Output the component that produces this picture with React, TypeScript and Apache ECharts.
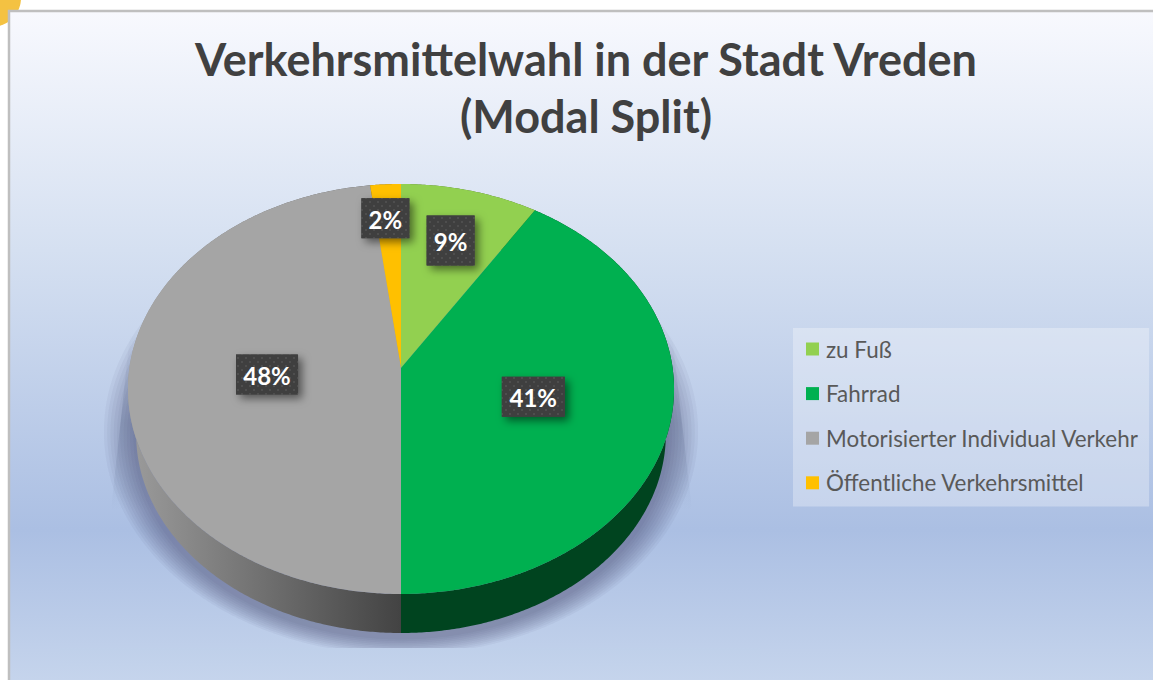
import React, { useEffect, useRef } from "react";
import * as echarts from "echarts";

const titleText = "Verkehrsmittelwahl in der Stadt Vreden\n(Modal Split)";
const categories = ["zu Fuß", "Fahrrad", "Motorisierter Individual Verkehr", "Öffentliche Verkehrsmittel"];
const shares = [9, 41, 48, 2];
const topColors = ["#92d050", "#00b050", "#a5a5a5", "#ffc000"];
const labelRadii = [0.7, 0.5, 0.5, 0.8];
const labelShiftX = [0, 0, 2, -3];
const labelBoxes = [[48, 50], [63, 40], [62, 40], [48, 40]];

const CX = 401, APEX_Y = 368, HALF = 271.6, B = 165.15, K = -0.1024;
const DEPTH_SCALE = 0.97, DEPTH_Y = 45.8;

const project = (deg: number, r: number, scale = 1, dy = 0): number[] => {
  const a = (deg * Math.PI) / 180;
  const u = r * Math.sin(a), v = -r * Math.cos(a);
  const d = 1 + K * v;
  const x = (HALF * u) / d;
  const y = (APEX_Y + B * v) / d;
  return [CX + x * scale, APEX_Y + (y - APEX_Y) * scale + dy];
};

const arc = (from: number, to: number, scale = 1, dy = 0): number[][] => {
  const pts: number[][] = [];
  const n = Math.max(2, Math.ceil((to - from) * 2));
  for (let i = 0; i <= n; i++) pts.push(project(from + ((to - from) * i) / n, 1, scale, dy));
  return pts;
};

const total = shares.reduce((s, v) => s + v, 0);
const starts = shares.map((_, i) => (shares.slice(0, i).reduce((s, v) => s + v, 0) / total) * 360);

const makePattern = () => {
  const c = document.createElement("canvas");
  c.width = 8; c.height = 8;
  const g = c.getContext("2d")!;
  g.fillStyle = "#3f3f3f"; g.fillRect(0, 0, 8, 8);
  g.fillStyle = "#4e4e4e"; g.fillRect(1, 1, 2, 2); g.fillRect(5, 5, 2, 2);
  return c;
};

const sideFill = (i: number): any => {
  if (i === 2) return new echarts.graphic.LinearGradient(0, 0, 1, 0, [
    { offset: 0, color: "#9c9c9c" }, { offset: 1, color: "#434343" },
  ]);
  return ["#4a6e28", "#00441f", "#555555", "#7f6000"][i];
};

const wedgeFill = () => new echarts.graphic.LinearGradient(0, 0, 0, 1, [
  { offset: 0, color: "rgba(70,90,125,0)" },
  { offset: 0.5, color: "rgba(70,90,125,0.2)" },
  { offset: 1, color: "rgba(70,90,125,0)" },
]);

const shadowLayers = () => {
  const layers: any[] = [];
  for (let k = 0; k < 10; k++) {
    const scale = 0.98 + 0.012 * k;
    layers.push({
      type: "polygon", z: -1, silent: true,
      shape: { points: arc(0, 360, scale, 50 - 9 * (k / 9)) },
      style: { fill: "rgba(62,58,92,0.05)" },
    });
  }
  return layers;
};

export default function App() {
  const ref = useRef<HTMLDivElement>(null);
  useEffect(() => {
    const chart = echarts.init(ref.current!, undefined, { renderer: "svg" });
    const pattern = makePattern();
    const bgStops = [
      { offset: 0, color: "#f8f9fe" },
      { offset: 0.352, color: "#d5e0f1" },
      { offset: 0.764, color: "#abbfe3" },
      { offset: 0.985, color: "#c5d4ec" },
      { offset: 1, color: "#c5d4ec" },
    ];
    chart.setOption({
      animation: false,
      title: {
        text: titleText,
        left: 581,
        top: 25,
        textAlign: "center",
        textStyle: { fontFamily: "Lato", fontWeight: "bold", fontSize: 45, lineHeight: 57, color: "#404040" },
      },
      legend: {
        data: categories,
        orient: "vertical",
        left: 793,
        top: 328,
        padding: [10, 10, 12.6, 13],
        itemWidth: 13,
        itemHeight: 13,
        itemGap: 22.6,
        icon: "rect",
        backgroundColor: "rgba(255,255,255,0.3)",
        textStyle: { fontFamily: "Lato", fontSize: 22.4, lineHeight: 20, color: "#595959", padding: [0, 0, 0, 2] },
        selectedMode: false,
      },
      graphic: [
        { type: "circle", z: -3, silent: true, shape: { cx: -8, cy: -2, r: 29 }, style: { fill: "#f4c242" } },
        {
          type: "rect", z: -2, silent: true,
          shape: { x: 9, y: 11, width: 1160, height: 679 },
          style: {
            fill: new echarts.graphic.LinearGradient(0, 0, 0, 1, bgStops),
            stroke: "#bfbfbf", lineWidth: 2.5,
          },
        },
        {
          type: "polygon", z: -1, silent: true,
          shape: { points: [[130, 335], [111, 510], [170, 510], [135, 335]] },
          style: { fill: wedgeFill() },
        },
        {
          type: "polygon", z: -1, silent: true,
          shape: { points: [[672, 335], [692, 510], [633, 510], [667, 335]] },
          style: { fill: wedgeFill() },
        },
        ...shadowLayers(),
        {
          type: "rect", z: 9, silent: true,
          shape: { x: 60, y: 648, width: 700, height: 32 },
          style: { fill: new echarts.graphic.LinearGradient(0, 0, 0, 1, [
            { offset: 0, color: "#bfd0ea" }, { offset: 1, color: "#c5d4ec" },
          ]) },
        },
      ],
      series: categories.map((name, i) => ({
        type: "custom",
        name,
        coordinateSystem: "none",
        clip: false,
        silent: true,
        data: [shares[i]],
        itemStyle: { color: topColors[i] },
        renderItem: (_: any, api: any) => {
          const value = api.value(0);
          const from = starts[i];
          const to = from + (value / total) * 360;
          const mid = (from + to) / 2;
          const top = arc(from, to);
          const low = arc(from, to, DEPTH_SCALE, DEPTH_Y);
          const [px, ly] = project(mid, labelRadii[i]);
          const lx = px + labelShiftX[i];
          const [bw, bh] = labelBoxes[i];
          const box = { x: lx - bw / 2, y: ly - bh / 2, width: bw, height: bh };
          return {
            type: "group",
            children: [
              { type: "polygon", z2: 1, shape: { points: [...top, ...low.slice().reverse()] }, style: { fill: sideFill(i) } },
              { type: "polygon", z2: 2, shape: { points: [project(0, 0), ...top] }, style: { fill: topColors[i] } },
              { type: "rect", z2: 3, shape: box, style: { fill: "#3f3f3f", shadowBlur: 9, shadowOffsetX: 4, shadowOffsetY: 4, shadowColor: "rgba(0,0,0,0.5)" } },
              { type: "rect", z2: 4, shape: box, style: { fill: { image: pattern, repeat: "repeat" } } },
              {
                type: "text", z2: 5,
                style: {
                  text: `${value}%`, x: lx, y: ly + 1, align: "center", verticalAlign: "middle",
                  fill: "#ffffff", font: "bold 24px Lato",
                },
              },
            ],
          };
        },
      })),
    });
    return () => chart.dispose();
  }, []);
  return <div ref={ref} style={{ position: "fixed", left: 0, top: 0, width: 1153, height: 680, background: "#fff" }} />;
}
